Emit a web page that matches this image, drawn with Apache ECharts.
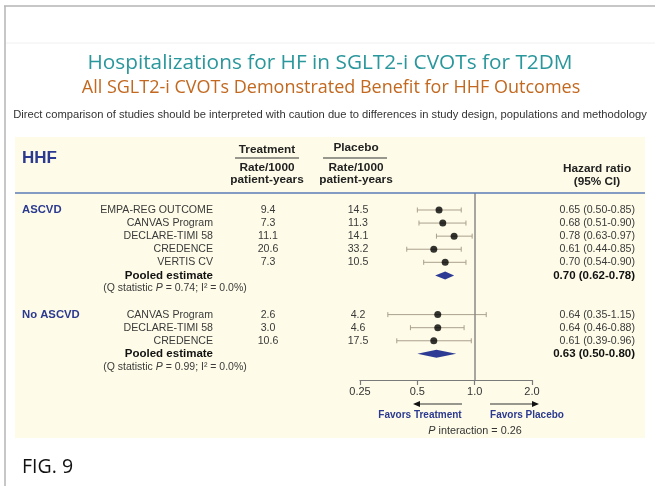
<!DOCTYPE html>
<html>
<head>
<meta charset="utf-8">
<script src="https://cdn.jsdelivr.net/npm/echarts@6/dist/echarts.min.js"></script>
<style>
  html, body { margin: 0; padding: 0; background: #fff; }
  #main { width: 655px; height: 486px; }
</style>
</head>
<body>
<div id="main"></div>
<script>
// data
const groups = ["ASCVD", "No ASCVD"];
const studyNames = [
  ["EMPA-REG OUTCOME", "CANVAS Program", "DECLARE-TIMI 58", "CREDENCE", "VERTIS CV"],
  ["CANVAS Program", "DECLARE-TIMI 58", "CREDENCE"]
];
const treatRate = [[9.4, 7.3, 11.1, 20.6, 7.3], [2.6, 3.0, 10.6]];
const placeboRate = [[14.5, 11.3, 14.1, 33.2, 10.5], [4.2, 4.6, 17.5]];
const hrEst = [[0.65, 0.68, 0.78, 0.61, 0.70], [0.64, 0.64, 0.61]];
const hrLow = [[0.50, 0.51, 0.63, 0.44, 0.54], [0.35, 0.46, 0.39]];
const hrHigh = [[0.85, 0.90, 0.97, 0.85, 0.90], [1.15, 0.88, 0.96]];
const pooledEst = [0.70, 0.63];
const pooledLow = [0.62, 0.50];
const pooledHigh = [0.78, 0.80];
const qStatP = ["0.74", "0.99"];
const qStatI2 = ["0.0%", "0.0%"];
const xTicks = [0.25, 0.5, 1, 2];
const pInteraction = "0.26";

const NAVY = "#2b3990";
const TXT = "#3a3a3a";
const BODY = "'Liberation Sans', Arial, sans-serif";

// rows: studies, pooled, Q line, gap
let studyRows = [], pooledRows = [], qRows = [];
let r = 0;
groups.forEach((g, gi) => {
  studyNames[gi].forEach((name, i) => {
    studyRows.push({ g: gi, i: i, row: r });
    r++;
  });
  pooledRows.push(r); r++;
  qRows.push(r); r++;
  r++;
});

const ciData = studyRows.map(s => [hrLow[s.g][s.i], hrHigh[s.g][s.i], s.row]);
const dotData = studyRows.map(s => [hrEst[s.g][s.i], s.row]);
const diamondData = groups.map((g, gi) => [pooledLow[gi], pooledEst[gi], pooledHigh[gi], pooledRows[gi]]);

let chart = echarts.init(document.getElementById("main"));

let option = {
  animation: false,
  grid: { left: 360, right: 123, top: 193, bottom: 106 },
  xAxis: {
    type: "log",
    logBase: 2,
    min: xTicks[0],
    max: xTicks[xTicks.length - 1],
    axisLine: { onZero: false, lineStyle: { color: "#7a7a7a", width: 1.2 } },
    axisTick: { show: true, length: 5, lineStyle: { color: "#7a7a7a", width: 1.2 } },
    splitLine: { show: false },
    axisLabel: {
      color: "#333",
      fontSize: 11,
      fontFamily: BODY,
      margin: 6,
      formatter: v => (v >= 1 ? Number(v).toFixed(1) : String(v))
    }
  },
  yAxis: { type: "value", inverse: true, min: -1.3, max: 13, show: false },
  series: [
    {
      type: "custom",
      data: ciData,
      encode: { x: [0, 1], y: 2 },
      renderItem: (params, api) => {
        let y = api.value(2);
        let p1 = api.coord([api.value(0), y]);
        let p2 = api.coord([api.value(1), y]);
        let st = { stroke: "#a99f8d", lineWidth: 1 };
        return {
          type: "group",
          children: [
            { type: "line", shape: { x1: p1[0], y1: p1[1], x2: p2[0], y2: p2[1] }, style: st },
            { type: "line", shape: { x1: p1[0], y1: p1[1] - 2.5, x2: p1[0], y2: p1[1] + 2.5 }, style: st },
            { type: "line", shape: { x1: p2[0], y1: p2[1] - 2.5, x2: p2[0], y2: p2[1] + 2.5 }, style: st }
          ]
        };
      },
      z: 3
    },
    {
      type: "scatter",
      data: dotData,
      symbol: "circle",
      symbolSize: 7,
      itemStyle: { color: "#000" },
      z: 4,
      markLine: {
        silent: true,
        symbol: ["none", "none"],
        label: { show: false },
        lineStyle: { color: "#8a8a8a", width: 1.5, type: "solid" },
        data: [{ xAxis: 1 }]
      }
    },
    {
      type: "custom",
      data: diamondData,
      encode: { x: [0, 1, 2], y: 3 },
      renderItem: (params, api) => {
        let y = api.value(3);
        let a = api.coord([api.value(0), y]);
        let m = api.coord([api.value(1), y]);
        let b = api.coord([api.value(2), y]);
        return {
          type: "polygon",
          shape: { points: [[a[0], a[1]], [m[0], m[1] - 4], [b[0], b[1]], [m[0], m[1] + 4]] },
          style: { fill: "#2e3b94" }
        };
      },
      z: 4
    }
  ]
};
chart.setOption(option);

// table text
const rowY = row => chart.convertToPixel({ yAxisIndex: 0 }, row);
let g = [];
function txt(x, y, text, align, font, color, extra) {
  g.push(Object.assign({
    type: "text", x: x, y: y, z: 50,
    style: { text: text, align: align, verticalAlign: "middle", font: font, fill: color }
  }, extra || {}));
}

// frame and panel
g.push({ type: "line", z: 1, shape: { x1: 4, y1: 6, x2: 655, y2: 6 }, style: { stroke: "#b4b4b4", lineWidth: 1.5 } });
g.push({ type: "line", z: 1, shape: { x1: 5, y1: 6, x2: 5, y2: 486 }, style: { stroke: "#b4b4b4", lineWidth: 1.5 } });
g.push({ type: "line", z: 1, shape: { x1: 6, y1: 43, x2: 655, y2: 43 }, style: { stroke: "#f0f0f0", lineWidth: 1 } });
g.push({ type: "rect", z: -10, shape: { x: 15, y: 137, width: 630, height: 301 }, style: { fill: "#fefce8" } });
g.push({ type: "line", z: 5, shape: { x1: 15, y1: 193, x2: 645, y2: 193 }, style: { stroke: "#5b7db8", lineWidth: 1.5 } });

// titles
txt(330, 63, "Hospitalizations for HF in SGLT2-i CVOTs for T2DM", "center", "20.8px 'Open Sans', sans-serif", "#2a979c");
txt(331, 88, "All SGLT2-i CVOTs Demonstrated Benefit for HHF Outcomes", "center", "18px 'Open Sans', sans-serif", "#c2681f");
txt(330, 115, "Direct comparison of studies should be interpreted with caution due to differences in study design, populations and methodology", "center", "11.2px " + BODY, "#333");

// header
const HB = "bold 11.8px " + BODY;
txt(22, 158, "HHF", "left", "bold 17px " + BODY, NAVY);
txt(267, 150, "Treatment", "center", HB, "#222");
g.push({ type: "line", z: 5, shape: { x1: 235, y1: 158, x2: 299, y2: 158 }, style: { stroke: "#333", lineWidth: 1 } });
txt(267, 168, "Rate/1000", "center", HB, "#222");
txt(267, 180, "patient-years", "center", HB, "#222");
txt(356, 148, "Placebo", "center", HB, "#222");
g.push({ type: "line", z: 5, shape: { x1: 323, y1: 158, x2: 387, y2: 158 }, style: { stroke: "#333", lineWidth: 1 } });
txt(356, 168, "Rate/1000", "center", HB, "#222");
txt(356, 180, "patient-years", "center", HB, "#222");
txt(597, 169, "Hazard ratio", "center", HB, "#222");
txt(597, 182, "(95% CI)", "center", HB, "#222");

const RF = "10.6px " + BODY;
const f2 = v => v.toFixed(2);
studyRows.forEach(s => {
  let y = rowY(s.row);
  if (s.i === 0) txt(22, y, groups[s.g], "left", "bold 11.3px " + BODY, NAVY);
  txt(213, y, studyNames[s.g][s.i], "right", RF, TXT);
  txt(268, y, treatRate[s.g][s.i].toFixed(1), "center", RF, TXT);
  txt(358, y, placeboRate[s.g][s.i].toFixed(1), "center", RF, TXT);
  txt(635, y, f2(hrEst[s.g][s.i]) + " (" + f2(hrLow[s.g][s.i]) + "-" + f2(hrHigh[s.g][s.i]) + ")", "right", RF, TXT);
});
groups.forEach((gname, gi) => {
  let y = rowY(pooledRows[gi]);
  txt(213, y, "Pooled estimate", "right", "bold 11.5px " + BODY, "#111");
  txt(635, y, f2(pooledEst[gi]) + " (" + f2(pooledLow[gi]) + "-" + f2(pooledHigh[gi]) + ")", "right", "bold 11.5px " + BODY, "#111");
  let yq = rowY(qRows[gi]);
  g.push({
    type: "text", x: 175, y: yq, z: 50,
    style: {
      text: "{n|(Q statistic }{i|P}{n| = " + qStatP[gi] + "; I² = " + qStatI2[gi] + ")}",
      align: "center", verticalAlign: "middle",
      rich: {
        n: { font: "10.5px " + BODY, fill: TXT },
        i: { font: "italic 10.5px " + BODY, fill: TXT }
      }
    }
  });
});

// favours arrows and labels
g.push({ type: "line", z: 5, shape: { x1: 462, y1: 404, x2: 418, y2: 404 }, style: { stroke: "#333", lineWidth: 1.2 } });
g.push({ type: "polygon", z: 5, shape: { points: [[413, 404], [420, 401], [420, 407]] }, style: { fill: "#111" } });
g.push({ type: "line", z: 5, shape: { x1: 490, y1: 404, x2: 534, y2: 404 }, style: { stroke: "#333", lineWidth: 1.2 } });
g.push({ type: "polygon", z: 5, shape: { points: [[539, 404], [532, 401], [532, 407]] }, style: { fill: "#111" } });
txt(420, 415, "Favors Treatment", "center", "bold 10px " + BODY, NAVY);
txt(527, 415, "Favors Placebo", "center", "bold 10px " + BODY, NAVY);
g.push({
  type: "text", x: 475, y: 431, z: 50,
  style: {
    text: "{i|P}{n| interaction = " + pInteraction + "}",
    align: "center", verticalAlign: "middle",
    rich: {
      n: { font: "10.8px " + BODY, fill: "#333" },
      i: { font: "italic 10.8px " + BODY, fill: "#333" }
    }
  }
});

txt(22, 467, "FIG. 9", "left", "19.5px 'Open Sans', sans-serif", "#111");

chart.setOption({ graphic: { elements: g } });
</script>
</body>
</html>
